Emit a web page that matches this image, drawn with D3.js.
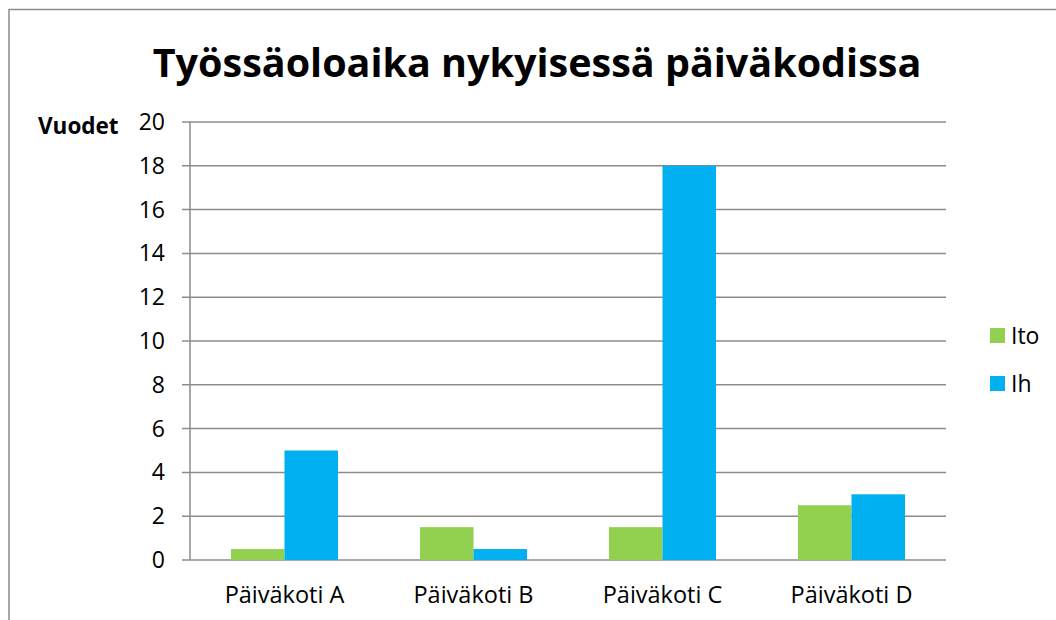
<!DOCTYPE html>
<meta charset="utf-8">
<html>
<head>
<style>
  body { margin: 0; background: #fff; }
  text { font-family: "Open Sans", "Noto Sans", sans-serif; fill: #000; }
</style>
<script src="https://cdn.jsdelivr.net/npm/d3@7"></script>
</head>
<body>
<script>

// data
var categories = ["Päiväkoti A", "Päiväkoti B", "Päiväkoti C", "Päiväkoti D"];
var seriesNames = ["Ito", "Ih"];
var itoValues = [0.5, 1.5, 1.5, 2.5];
var ihValues = [5, 0.5, 18, 3];
var yTicks = [0, 2, 4, 6, 8, 10, 12, 14, 16, 18, 20];
var colors = ["#92d050", "#00b0f0"];

var width = 1056, height = 620;
var plot = { left: 190, right: 946, top: 122, bottom: 560 };

var svg = d3.select("body").append("svg")
    .attr("width", width)
    .attr("height", height);

// outer chart border (runs off the right and bottom edge)
svg.append("rect")
  .attr("x", 9).attr("y", 9.5)
  .attr("width", 1100).attr("height", 700)
  .attr("fill", "none")
  .attr("stroke", "#8c8c8c")
  .attr("stroke-width", 1.5);

var x = d3.scaleBand()
    .domain(categories)
    .range([plot.left, plot.right])
    .paddingInner(0.434)
    .paddingOuter(0.217);

var xs = d3.scaleBand()
    .domain(seriesNames)
    .range([0, x.bandwidth()]);

var y = d3.scaleLinear()
    .domain([0, 20])
    .range([plot.bottom, plot.top]);

// gridlines
svg.append("g")
  .selectAll("line")
  .data(yTicks)
  .join("line")
    .attr("x1", plot.left - 8)
    .attr("x2", plot.right)
    .attr("y1", function(d) { return y(d); })
    .attr("y2", function(d) { return y(d); })
    .attr("stroke", "#8c8c8c")
    .attr("stroke-width", 1.5);

// tick labels
svg.append("g")
  .selectAll("text")
  .data(yTicks)
  .join("text")
    .attr("x", 165)
    .attr("y", function(d) { return y(d); })
    .attr("dy", "0.35em")
    .attr("text-anchor", "end")
    .style("font-size", "23px")
    .text(function(d) { return d; });

// bars
var rows = categories.map(function(c, i) {
  return { cat: c, vals: [itoValues[i], ihValues[i]] };
});

var groups = svg.append("g")
  .selectAll("g")
  .data(rows)
  .join("g")
    .attr("transform", function(d) { return "translate(" + x(d.cat) + ",0)"; });

groups.selectAll("rect")
  .data(function(d) { return d.vals.map(function(v, j) { return { name: seriesNames[j], v: v, j: j }; }); })
  .join("rect")
    .attr("x", function(d) { return xs(d.name); })
    .attr("width", xs.bandwidth())
    .attr("y", function(d) { return y(d.v); })
    .attr("height", function(d) { return y(0) - y(d.v); })
    .attr("fill", function(d) { return colors[d.j]; });

// y axis line
svg.append("line")
  .attr("x1", plot.left).attr("x2", plot.left)
  .attr("y1", plot.top).attr("y2", plot.bottom)
  .attr("stroke", "#8c8c8c")
  .attr("stroke-width", 1.5);

// category labels
svg.append("g")
  .selectAll("text")
  .data(categories)
  .join("text")
    .attr("x", function(d) { return x(d) + x.bandwidth() / 2; })
    .attr("y", 603)
    .attr("text-anchor", "middle")
    .style("font-size", "23.5px")
    .text(function(d) { return d; });

// title
svg.append("text")
  .attr("x", 537)
  .attr("y", 77)
  .attr("text-anchor", "middle")
  .style("font-size", "39.5px")
  .style("font-weight", "bold")
  .text("Työssäoloaika nykyisessä päiväkodissa");

// axis title
svg.append("text")
  .attr("x", 38)
  .attr("y", 134)
  .style("font-size", "22.5px")
  .style("font-weight", "bold")
  .text("Vuodet");

// legend
var legend = svg.append("g")
  .selectAll("g")
  .data(seriesNames)
  .join("g")
    .attr("transform", function(d, i) { return "translate(990," + (328 + i * 48) + ")"; });

legend.append("rect")
  .attr("width", 15).attr("height", 15)
  .attr("fill", function(d, i) { return colors[i]; });

legend.append("text")
  .attr("x", 21)
  .attr("y", 7.5)
  .attr("dy", "0.35em")
  .style("font-size", "23px")
  .text(function(d) { return d; });

</script>
</body>
</html>
